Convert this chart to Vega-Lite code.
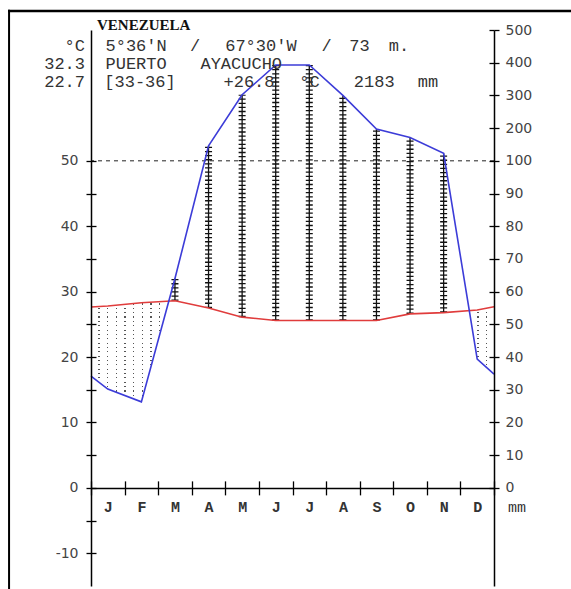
{
"$schema":"https://vega.github.io/schema/vega-lite/v6.json",
"width":403,"height":556,
"autosize":{"type":"none"},
"padding":{"left":91,"top":30,"right":77,"bottom":3},
"background":"#ffffff",
"config":{"view":{"stroke":null},"text":{"font":"Liberation Mono","fontSize":17,"color":"#333","baseline":"middle","align":"center"}},
"datasets":{
"clim":[
{"month":0.5,"temp":27.65,"precip":34.2},
{"month":1,"temp":27.8,"precip":30.2},
{"month":2,"temp":28.3,"precip":26.3},
{"month":3,"temp":28.6,"precip":64},
{"month":4,"temp":27.5,"precip":146},
{"month":5,"temp":26.1,"precip":302},
{"month":6,"temp":25.6,"precip":393},
{"month":7,"temp":25.6,"precip":393},
{"month":8,"temp":25.6,"precip":300},
{"month":9,"temp":25.6,"precip":197},
{"month":10,"temp":26.6,"precip":171},
{"month":11,"temp":26.8,"precip":123},
{"month":12,"temp":27.2,"precip":39.4},
{"month":12.5,"temp":27.7,"precip":34.8}
],
"one":[{}]
},
"data":{"name":"clim"},
"resolve":{"scale":{"y":"independent"},"axis":{"x":"independent","y":"independent"}},
"layer":[
{"mark":{"type":"area","fill":{"gradient":"linear","x1":0,"y1":0,"x2":1,"y2":0,"stops":[
{"offset":0.0183,"color":"#fff"},{"offset":0.0183,"color":"#555"},{"offset":0.0217,"color":"#555"},{"offset":0.0217,"color":"#fff"},
{"offset":0.0398,"color":"#fff"},{"offset":0.0398,"color":"#555"},{"offset":0.0432,"color":"#555"},{"offset":0.0432,"color":"#fff"},
{"offset":0.0613,"color":"#fff"},{"offset":0.0613,"color":"#555"},{"offset":0.0647,"color":"#555"},{"offset":0.0647,"color":"#fff"},
{"offset":0.0828,"color":"#fff"},{"offset":0.0828,"color":"#555"},{"offset":0.0862,"color":"#555"},{"offset":0.0862,"color":"#fff"},
{"offset":0.1043,"color":"#fff"},{"offset":0.1043,"color":"#555"},{"offset":0.1077,"color":"#555"},{"offset":0.1077,"color":"#fff"},
{"offset":0.1258,"color":"#fff"},{"offset":0.1258,"color":"#555"},{"offset":0.1292,"color":"#555"},{"offset":0.1292,"color":"#fff"},
{"offset":0.1473,"color":"#fff"},{"offset":0.1473,"color":"#555"},{"offset":0.1507,"color":"#555"},{"offset":0.1507,"color":"#fff"},
{"offset":0.1688,"color":"#fff"},{"offset":0.1688,"color":"#555"},{"offset":0.1722,"color":"#555"},{"offset":0.1722,"color":"#fff"},
{"offset":0.1903,"color":"#fff"},{"offset":0.1903,"color":"#555"},{"offset":0.1937,"color":"#555"},{"offset":0.1937,"color":"#fff"},
{"offset":0.2118,"color":"#fff"},{"offset":0.2118,"color":"#555"},{"offset":0.2152,"color":"#555"},{"offset":0.2152,"color":"#fff"},
{"offset":0.9373,"color":"#fff"},{"offset":0.9373,"color":"#555"},{"offset":0.9407,"color":"#555"},{"offset":0.9407,"color":"#fff"},
{"offset":0.9588,"color":"#fff"},{"offset":0.9588,"color":"#555"},{"offset":0.9622,"color":"#555"},{"offset":0.9622,"color":"#fff"},
{"offset":0.9803,"color":"#fff"},{"offset":0.9803,"color":"#555"},{"offset":0.9837,"color":"#555"},{"offset":0.9837,"color":"#fff"}
]}},
"encoding":{
"x":{"field":"month","type":"quantitative","scale":{"domain":[0.5,12.5],"nice":false,"zero":false},
"axis":{"orient":"bottom","offset":-98.12,"values":[0.5,1.5,2.5,3.5,4.5,5.5,6.5,7.5,8.5,9.5,10.5,11.5,12.5],"labels":false,"tickSize":-7,"tickWidth":1.3,"tickColor":"#000","domain":false,"grid":false,"title":null,"zindex":1}},
"y":{"field":"temp","type":"quantitative","scale":{"domain":[-15,70],"nice":false,"zero":false},
"axis":{"orient":"left","values":[-10,-5,0,5,10,15,20,25,30,35,40,45,50],"labels":false,"tickSize":-5,"tickWidth":1.3,"tickColor":"#000","domain":false,"grid":false,"title":null,"zindex":1}},
"y2":{"datum":12}
}},
{"mark":{"type":"area","fill":{"gradient":"linear","x1":0,"y1":0,"x2":0,"y2":1,"stops":[
{"offset":0.0245,"color":"#fff"},{"offset":0.0245,"color":"rgba(255,255,255,0)"},{"offset":0.0355,"color":"rgba(255,255,255,0)"},{"offset":0.0355,"color":"#fff"},
{"offset":0.0645,"color":"#fff"},{"offset":0.0645,"color":"rgba(255,255,255,0)"},{"offset":0.0755,"color":"rgba(255,255,255,0)"},{"offset":0.0755,"color":"#fff"},
{"offset":0.1045,"color":"#fff"},{"offset":0.1045,"color":"rgba(255,255,255,0)"},{"offset":0.1155,"color":"rgba(255,255,255,0)"},{"offset":0.1155,"color":"#fff"},
{"offset":0.1445,"color":"#fff"},{"offset":0.1445,"color":"rgba(255,255,255,0)"},{"offset":0.1555,"color":"rgba(255,255,255,0)"},{"offset":0.1555,"color":"#fff"},
{"offset":0.1845,"color":"#fff"},{"offset":0.1845,"color":"rgba(255,255,255,0)"},{"offset":0.1955,"color":"rgba(255,255,255,0)"},{"offset":0.1955,"color":"#fff"},
{"offset":0.2245,"color":"#fff"},{"offset":0.2245,"color":"rgba(255,255,255,0)"},{"offset":0.2355,"color":"rgba(255,255,255,0)"},{"offset":0.2355,"color":"#fff"},
{"offset":0.2645,"color":"#fff"},{"offset":0.2645,"color":"rgba(255,255,255,0)"},{"offset":0.2755,"color":"rgba(255,255,255,0)"},{"offset":0.2755,"color":"#fff"},
{"offset":0.3045,"color":"#fff"},{"offset":0.3045,"color":"rgba(255,255,255,0)"},{"offset":0.3155,"color":"rgba(255,255,255,0)"},{"offset":0.3155,"color":"#fff"},
{"offset":0.3445,"color":"#fff"},{"offset":0.3445,"color":"rgba(255,255,255,0)"},{"offset":0.3555,"color":"rgba(255,255,255,0)"},{"offset":0.3555,"color":"#fff"},
{"offset":0.3845,"color":"#fff"},{"offset":0.3845,"color":"rgba(255,255,255,0)"},{"offset":0.3955,"color":"rgba(255,255,255,0)"},{"offset":0.3955,"color":"#fff"},
{"offset":0.4245,"color":"#fff"},{"offset":0.4245,"color":"rgba(255,255,255,0)"},{"offset":0.4355,"color":"rgba(255,255,255,0)"},{"offset":0.4355,"color":"#fff"},
{"offset":0.4645,"color":"#fff"},{"offset":0.4645,"color":"rgba(255,255,255,0)"},{"offset":0.4755,"color":"rgba(255,255,255,0)"},{"offset":0.4755,"color":"#fff"},
{"offset":0.5045,"color":"#fff"},{"offset":0.5045,"color":"rgba(255,255,255,0)"},{"offset":0.5155,"color":"rgba(255,255,255,0)"},{"offset":0.5155,"color":"#fff"},
{"offset":0.5445,"color":"#fff"},{"offset":0.5445,"color":"rgba(255,255,255,0)"},{"offset":0.5555,"color":"rgba(255,255,255,0)"},{"offset":0.5555,"color":"#fff"},
{"offset":0.5845,"color":"#fff"},{"offset":0.5845,"color":"rgba(255,255,255,0)"},{"offset":0.5955,"color":"rgba(255,255,255,0)"},{"offset":0.5955,"color":"#fff"},
{"offset":0.6245,"color":"#fff"},{"offset":0.6245,"color":"rgba(255,255,255,0)"},{"offset":0.6355,"color":"rgba(255,255,255,0)"},{"offset":0.6355,"color":"#fff"},
{"offset":0.6645,"color":"#fff"},{"offset":0.6645,"color":"rgba(255,255,255,0)"},{"offset":0.6755,"color":"rgba(255,255,255,0)"},{"offset":0.6755,"color":"#fff"},
{"offset":0.7045,"color":"#fff"},{"offset":0.7045,"color":"rgba(255,255,255,0)"},{"offset":0.7155,"color":"rgba(255,255,255,0)"},{"offset":0.7155,"color":"#fff"},
{"offset":0.7445,"color":"#fff"},{"offset":0.7445,"color":"rgba(255,255,255,0)"},{"offset":0.7555,"color":"rgba(255,255,255,0)"},{"offset":0.7555,"color":"#fff"},
{"offset":0.7845,"color":"#fff"},{"offset":0.7845,"color":"rgba(255,255,255,0)"},{"offset":0.7955,"color":"rgba(255,255,255,0)"},{"offset":0.7955,"color":"#fff"},
{"offset":0.8245,"color":"#fff"},{"offset":0.8245,"color":"rgba(255,255,255,0)"},{"offset":0.8355,"color":"rgba(255,255,255,0)"},{"offset":0.8355,"color":"#fff"},
{"offset":0.8645,"color":"#fff"},{"offset":0.8645,"color":"rgba(255,255,255,0)"},{"offset":0.8755,"color":"rgba(255,255,255,0)"},{"offset":0.8755,"color":"#fff"},
{"offset":0.9045,"color":"#fff"},{"offset":0.9045,"color":"rgba(255,255,255,0)"},{"offset":0.9155,"color":"rgba(255,255,255,0)"},{"offset":0.9155,"color":"#fff"},
{"offset":0.9445,"color":"#fff"},{"offset":0.9445,"color":"rgba(255,255,255,0)"},{"offset":0.9555,"color":"rgba(255,255,255,0)"},{"offset":0.9555,"color":"#fff"},
{"offset":0.9845,"color":"#fff"},{"offset":0.9845,"color":"rgba(255,255,255,0)"},{"offset":0.9955,"color":"rgba(255,255,255,0)"},{"offset":0.9955,"color":"#fff"}
]}},
"encoding":{
"x":{"field":"month","type":"quantitative","axis":null},
"y":{"field":"temp","type":"quantitative","scale":{"domain":[-15,70],"nice":false,"zero":false},"axis":null},
"y2":{"datum":12}
}},
{"mark":{"type":"area","fill":"#fff"},
"encoding":{
"x":{"field":"month","type":"quantitative","axis":null},
"y":{"field":"precip","type":"quantitative","scale":{"domain":[-30,0,100,500],"range":[556,457.88,130.82,0],"nice":false,"zero":false},
"axis":{"orient":"right","values":[0,10,20,30,40,50,60,70,80,90,100,200,300,400,500],"labels":false,"tickSize":-5,"tickWidth":1.3,"tickColor":"#000","domain":false,"grid":false,"title":null,"zindex":1}},
"y2":{"datum":0}
}},
{"transform":[{"filter":"datum.month >= 3 && datum.month <= 11"}],
"mark":{"type":"rule","color":"#111","strokeWidth":1.3},
"encoding":{
"x":{"field":"month","type":"quantitative","axis":null},
"y":{"field":"temp","type":"quantitative","scale":{"domain":[-15,35,50,100,500],"range":[556,228.94,294.35,130.82,0],"nice":false,"zero":false},"axis":null},
"y2":{"field":"precip"}
}},
{"transform":[{"filter":"datum.month >= 3 && datum.month <= 11"}],
"mark":{"type":"rule","color":"#111","strokeWidth":7,"strokeDash":[1.3,2.8]},
"encoding":{
"x":{"field":"month","type":"quantitative","axis":null},
"y":{"field":"temp","type":"quantitative","scale":{"domain":[-15,35,50,100,500],"range":[556,228.94,294.35,130.82,0],"nice":false,"zero":false},"axis":null},
"y2":{"field":"precip"}
}},
{"data":{"name":"one"},
"mark":{"type":"rule","color":"#222","strokeWidth":1,"strokeDash":[4,4]},
"encoding":{
"y":{"datum":100,"scale":{"domain":[-30,0,100,500],"range":[556,457.88,130.82,0],"nice":false,"zero":false},"axis":null}
}},
{"mark":{"type":"line","color":"#e03c3c","strokeWidth":1.6},
"encoding":{
"x":{"field":"month","type":"quantitative",
"axis":{"orient":"bottom","offset":-98.12,"values":[0.5,1.5,2.5,3.5,4.5,5.5,6.5,7.5,8.5,9.5,10.5,11.5,12.5],"labels":false,"tickSize":7,"tickWidth":1.3,"tickColor":"#000","domain":true,"domainColor":"#000","domainWidth":1.5,"grid":false,"title":null,"zindex":1}},
"y":{"field":"temp","type":"quantitative","scale":{"domain":[-15,70],"nice":false,"zero":false},
"axis":{"orient":"left","values":[-10,-5,0,5,10,15,20,25,30,35,40,45,50],"tickSize":5,"tickWidth":1.3,"tickColor":"#000","domain":true,"domainColor":"#000","domainWidth":1.5,"labelExpr":"datum.value % 10 === 0 ? '' + datum.value : ''","labelFont":"DejaVu Sans","labelFontSize":14,"labelColor":"#444","labelPadding":8,"labelFlush":false,"labelOverlap":false,"grid":false,"title":null,"zindex":1}}
}},
{"mark":{"type":"line","color":"#3c3cd8","strokeWidth":1.6},
"encoding":{
"x":{"field":"month","type":"quantitative",
"axis":{"orient":"bottom","offset":-98.12,"values":[1,2,3,4,5,6,7,8,9,10,11,12],"ticks":false,"tickSize":0,"domain":false,"labelExpr":"['J','F','M','A','M','J','J','A','S','O','N','D'][datum.value - 1]","labelFont":"Liberation Mono","labelFontSize":15,"labelFontWeight":"bold","labelColor":"#333","labelPadding":12,"labelFlush":false,"labelOverlap":false,"grid":false,"title":null,"zindex":1}},
"y":{"field":"precip","type":"quantitative","scale":{"domain":[-30,0,100,500],"range":[556,457.88,130.82,0],"nice":false,"zero":false},
"axis":{"orient":"right","values":[0,10,20,30,40,50,60,70,80,90,100,200,300,400,500],"tickSize":5,"tickWidth":1.3,"tickColor":"#000","domain":true,"domainColor":"#000","domainWidth":1.5,"labelFont":"DejaVu Sans","labelFontSize":14,"labelColor":"#444","labelPadding":6,"labelFlush":false,"labelOverlap":false,"grid":false,"title":null,"zindex":1}}
}},
{"data":{"name":"one"},
"layer":[
{"mark":{"type":"rule","color":"#000","strokeWidth":2.5},"encoding":{"x":{"datum":-1.97,"axis":null},"x2":{"datum":14.9},"y":{"datum":72.9,"scale":{"domain":[-15,70],"nice":false,"zero":false},"axis":null}}},
{"mark":{"type":"rule","color":"#000","strokeWidth":2},"encoding":{"x":{"datum":-1.94,"axis":null},"y":{"datum":73.1,"axis":null},"y2":{"datum":-16.5}}},
{"mark":{"type":"text","font":"Liberation Serif","fontWeight":"bold","fontSize":15,"align":"left","color":"#111"},"encoding":{"x":{"datum":0.679,"axis":null},"y":{"datum":70.76,"axis":null},"text":{"value":"VENEZUELA"}}},
{"mark":{"type":"text","align":"right"},"encoding":{"x":{"datum":0.321,"axis":null},"y":{"datum":67.55,"axis":null},"text":{"value":"°C"}}},
{"mark":{"type":"text","align":"right"},"encoding":{"x":{"datum":0.321,"axis":null},"y":{"datum":64.8,"axis":null},"text":{"value":"32.3"}}},
{"mark":{"type":"text","align":"right"},"encoding":{"x":{"datum":0.321,"axis":null},"y":{"datum":62.05,"axis":null},"text":{"value":"22.7"}}},
{"mark":"text","encoding":{"x":{"datum":1.843,"axis":null},"y":{"datum":67.55,"axis":null},"text":{"value":"5°36'N"}}},
{"mark":"text","encoding":{"x":{"datum":3.603,"axis":null},"y":{"datum":67.55,"axis":null},"text":{"value":"/"}}},
{"mark":"text","encoding":{"x":{"datum":5.559,"axis":null},"y":{"datum":67.55,"axis":null},"text":{"value":"67°30'W"}}},
{"mark":"text","encoding":{"x":{"datum":7.518,"axis":null},"y":{"datum":67.55,"axis":null},"text":{"value":"/"}}},
{"mark":"text","encoding":{"x":{"datum":8.495,"axis":null},"y":{"datum":67.55,"axis":null},"text":{"value":"73"}}},
{"mark":"text","encoding":{"x":{"datum":9.668,"axis":null},"y":{"datum":67.55,"axis":null},"text":{"value":"m."}}},
{"mark":"text","encoding":{"x":{"datum":1.843,"axis":null},"y":{"datum":64.8,"axis":null},"text":{"value":"PUERTO"}}},
{"mark":"text","encoding":{"x":{"datum":4.974,"axis":null},"y":{"datum":64.8,"axis":null},"text":{"value":"AYACUCHO"}}},
{"mark":"text","encoding":{"x":{"datum":1.959,"axis":null},"y":{"datum":62.05,"axis":null},"text":{"value":"[33-36]"}}},
{"mark":"text","encoding":{"x":{"datum":5.205,"axis":null},"y":{"datum":62.05,"axis":null},"text":{"value":"+26.8"}}},
{"mark":"text","encoding":{"x":{"datum":7.006,"axis":null},"y":{"datum":62.05,"axis":null},"text":{"value":"°C"}}},
{"mark":"text","encoding":{"x":{"datum":8.935,"axis":null},"y":{"datum":62.05,"axis":null},"text":{"value":"2183"}}},
{"mark":"text","encoding":{"x":{"datum":10.535,"axis":null},"y":{"datum":62.05,"axis":null},"text":{"value":"mm"}}},
{"mark":{"type":"text","fontSize":15},"encoding":{"x":{"datum":13.185,"axis":null},"y":{"datum":-2.92,"axis":null},"text":{"value":"mm"}}}
]}
]
}
